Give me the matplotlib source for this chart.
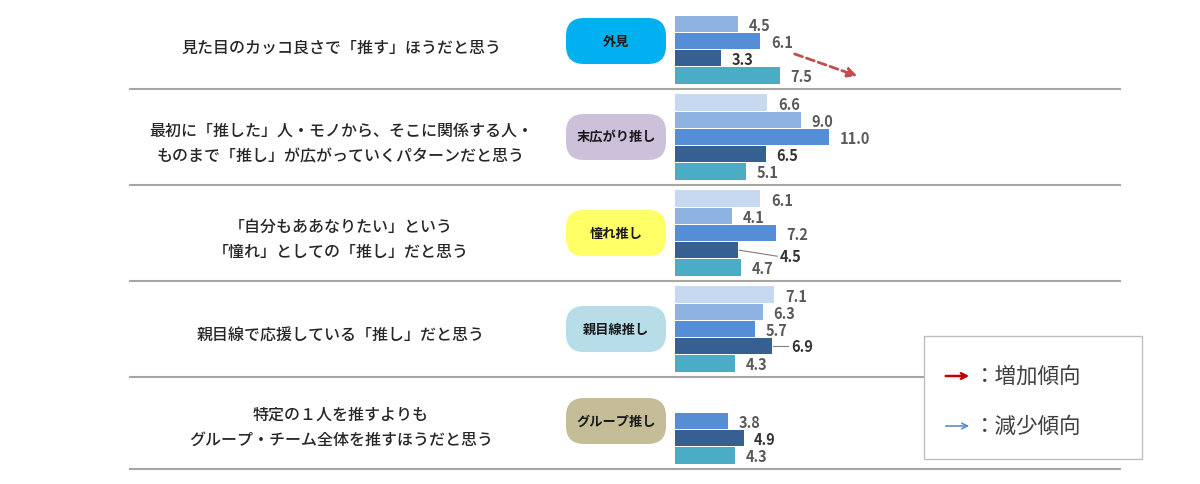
import matplotlib
matplotlib.use("Agg")
import matplotlib.pyplot as plt
from matplotlib.patches import FancyBboxPatch, Rectangle

plt.rcParams['font.family'] = ['Noto Sans CJK JP', 'DejaVu Sans']

# データ（5系列、欠損は None）
questions = [
    "見た目のカッコ良さで「推す」ほうだと思う",
    "最初に「推した」人・モノから、そこに関係する人・\nものまで「推し」が広がっていくパターンだと思う",
    "「自分もああなりたい」という\n「憧れ」としての「推し」だと思う",
    "親目線で応援している「推し」だと思う",
    "特定の１人を推すよりも\nグループ・チーム全体を推すほうだと思う",
]
types = ["外見", "末広がり推し", "憧れ推し", "親目線推し", "グループ推し"]
type_colors = ["#00b0f0", "#ccc0da", "#ffff66", "#b7dde8", "#c4bd97"]

s1 = [None, 6.6, 6.1, 7.1, None]
s2 = [4.5, 9.0, 4.1, 6.3, None]
s3 = [6.1, 11.0, 7.2, 5.7, 3.8]
s4 = [3.3, 6.5, 4.5, 6.9, 4.9]
s5 = [7.5, 5.1, 4.7, 4.3, 4.3]
series = [s1, s2, s3, s4, s5]
series_colors = ["#c6d9f1", "#8db3e2", "#558ed5", "#376092", "#4bacc6"]

W, H = 1200, 485
fig = plt.figure(figsize=(12, 4.85), dpi=100)
bg = fig.add_axes([0, 0, 1, 1])
bg.set_xlim(0, W)
bg.set_ylim(H, 0)
bg.axis('off')

x0 = 675
px_per_unit = 14
ax = fig.add_axes([x0 / W, 0, (W - x0) / W, 1])
ax.set_xlim(0, (W - x0) / px_per_unit)
ax.set_ylim(H, 0)
ax.axis('off')

seps = [90, 186, 282, 378, 470]
slot = 17.2

# 区切り線
for s in seps:
    bg.plot([130, 1120], [s, s], color="#a6a6a6", lw=1.5, zorder=1)

for g in range(5):
    bottom = seps[g] - 5
    top = bottom - 5 * slot
    center = (top + bottom) / 2
    # 左の設問
    bg.text(341, center + 6, questions[g], ha='center', va='center',
            fontsize=11.5, fontweight='medium', color="#262626",
            linespacing=1.65)
    # タイプのピル
    pill = FancyBboxPatch((566, center - 23), 100, 46,
                          boxstyle="round,pad=0,rounding_size=18",
                          fc=type_colors[g], ec='none', zorder=2)
    bg.add_patch(pill)
    bg.text(616, center, types[g], ha='center', va='center',
            fontsize=9.5, fontweight='bold', color="#1a1a1a", zorder=3)
    # 棒
    for k in range(5):
        v = series[k][g]
        if v is None:
            continue
        y = top + slot * (k + 0.5)
        ax.barh(y, v, height=16.5, color=series_colors[k], zorder=2)
        col = "#333333" if k == 3 else "#595959"
        if g == 2 and k == 3:
            lx = 7.5
            ax.plot([v + 0.1, lx - 0.2], [y, y + 6], color="#7f7f7f", lw=0.8)
            ax.text(lx, y + 6, f"{v:.1f}", ha='left', va='center',
                    fontsize=10.5, fontweight='bold', color=col)
        elif g == 3 and k == 3:
            lx = 8.3
            ax.plot([v + 0.1, lx - 0.2], [y, y], color="#7f7f7f", lw=0.8)
            ax.text(lx, y, f"{v:.1f}", ha='left', va='center',
                    fontsize=10.5, fontweight='bold', color=col)
        else:
            ax.text(v + 0.75, y + 1, f"{v:.1f}", ha='left', va='center',
                    fontsize=10.5, fontweight='bold', color=col)

# 増加傾向の矢印
bg.annotate("", xy=(860, 78), xytext=(792, 54),
            arrowprops=dict(arrowstyle="-|>", color="#c0504d", lw=2,
                            linestyle=(0, (3, 1.5)), mutation_scale=14),
            zorder=4)

# 凡例ボックス
bg.add_patch(Rectangle((924, 337), 218, 123, fc='white', ec="#bfbfbf",
                       lw=1, zorder=5))
bg.annotate("", xy=(972, 377), xytext=(943, 377),
            arrowprops=dict(arrowstyle="->", color="#c00000", lw=1.8,
                            mutation_scale=10), zorder=6)
bg.text(974, 377, "：増加傾向", ha='left', va='center', fontsize=15.5,
        color="#404040", zorder=6)
bg.annotate("", xy=(972, 427), xytext=(943, 427),
            arrowprops=dict(arrowstyle="->", color="#5b8fc8", lw=1.2,
                            mutation_scale=10), zorder=6)
bg.text(974, 427, "：減少傾向", ha='left', va='center', fontsize=15.5,
        color="#404040", zorder=6)

fig.savefig("out.png", dpi=100, facecolor='white')
